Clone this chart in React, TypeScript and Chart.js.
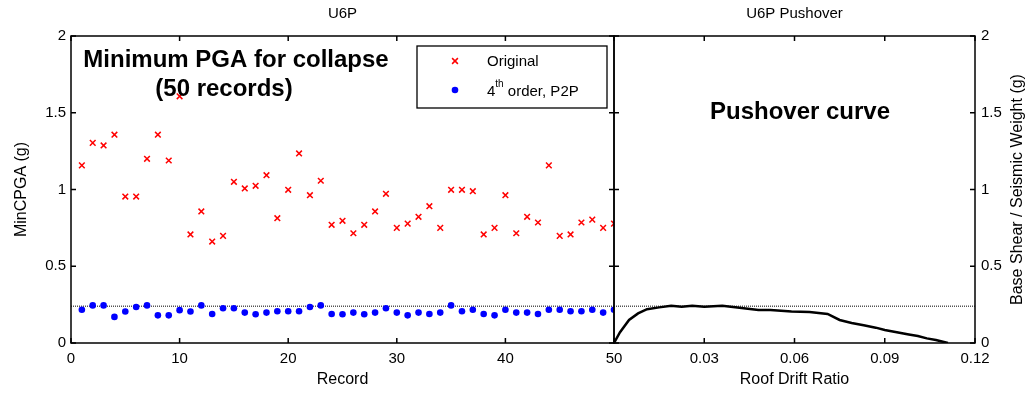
import React, { useEffect, useRef } from 'react';
import { Chart, registerables } from 'chart.js';

Chart.register(...registerables);

const W = 1031;
const H = 393;
const FONT = 'Arial, "Liberation Sans", Helvetica, sans-serif';

// ---- data ----
const records = [
  1, 2, 3, 4, 5, 6, 7, 8, 9, 10, 11, 12, 13, 14, 15, 16, 17, 18, 19, 20, 21, 22, 23, 24, 25,
  26, 27, 28, 29, 30, 31, 32, 33, 34, 35, 36, 37, 38, 39, 40, 41, 42, 43, 44, 45, 46, 47, 48, 49, 50,
];
const originalPGA = [
  1.157, 1.304, 1.287, 1.357, 0.954, 0.954, 1.2, 1.357, 1.189, 1.607,
  0.707, 0.857, 0.661, 0.698, 1.05, 1.007, 1.024, 1.093, 0.813, 0.998,
  1.235, 0.963, 1.057, 0.77, 0.796, 0.715, 0.77, 0.857, 0.972, 0.75,
  0.778, 0.822, 0.891, 0.75, 0.998, 0.998, 0.989, 0.707, 0.75, 0.963,
  0.715, 0.822, 0.785, 1.157, 0.698, 0.707, 0.785, 0.804, 0.75, 0.778,
];
const p2pPGA = [
  0.217, 0.245, 0.245, 0.17, 0.205, 0.235, 0.245, 0.18, 0.18, 0.214,
  0.205, 0.245, 0.189, 0.226, 0.226, 0.198, 0.187, 0.198, 0.207, 0.207,
  0.207, 0.235, 0.245, 0.189, 0.187, 0.198, 0.187, 0.198, 0.226, 0.198,
  0.18, 0.198, 0.189, 0.198, 0.245, 0.207, 0.217, 0.189, 0.18, 0.217,
  0.198, 0.198, 0.189, 0.217, 0.217, 0.207, 0.207, 0.217, 0.198, 0.217,
];
const roofDrift = [
  0, 0.002, 0.005, 0.008, 0.011, 0.015, 0.019, 0.0225, 0.026, 0.03, 0.036, 0.041, 0.048,
  0.052, 0.059, 0.065, 0.071, 0.075, 0.079, 0.083, 0.087, 0.09, 0.094, 0.098, 0.101,
  0.104, 0.107, 0.109, 0.111,
];
const baseShear = [
  0, 0.07, 0.15, 0.193, 0.22, 0.232, 0.243, 0.236, 0.243, 0.236, 0.243, 0.232, 0.215,
  0.215, 0.206, 0.202, 0.189, 0.15, 0.13, 0.115, 0.1, 0.085, 0.07, 0.055, 0.045,
  0.03, 0.02, 0.01, 0,
];
const peakLevel = [0.24];
const recordTicks = [0, 10, 20, 30, 40, 50];
const driftTicks = [0.03, 0.06, 0.09, 0.12];
const yTicks = [0, 0.5, 1, 1.5, 2];

const TICK_LEN = 5;

function drawFrame(chart: any, xTickVals: number[]) {
  const { ctx, chartArea: a } = chart;
  const xs = chart.scales.x;
  const ys = chart.scales.y;
  ctx.save();
  ctx.strokeStyle = '#000';
  ctx.lineWidth = 1.5;
  ctx.strokeRect(a.left, a.top, a.right - a.left, a.bottom - a.top);
  ctx.beginPath();
  for (const v of xTickVals) {
    const px = xs.getPixelForValue(v);
    ctx.moveTo(px, a.bottom);
    ctx.lineTo(px, a.bottom - TICK_LEN);
    ctx.moveTo(px, a.top);
    ctx.lineTo(px, a.top + TICK_LEN);
  }
  for (const v of yTicks) {
    const py = ys.getPixelForValue(v);
    ctx.moveTo(a.left, py);
    ctx.lineTo(a.left + TICK_LEN, py);
    ctx.moveTo(a.right, py);
    ctx.lineTo(a.right - TICK_LEN, py);
  }
  ctx.stroke();
  ctx.restore();
}

function text(ctx: any, s: string, x: number, y: number, font: string, align = 'center', rot = 0) {
  ctx.save();
  ctx.translate(x, y);
  if (rot) ctx.rotate(rot);
  ctx.font = font;
  ctx.fillStyle = '#000';
  ctx.textAlign = align;
  ctx.textBaseline = 'middle';
  ctx.fillText(s, 0, 0);
  ctx.restore();
}

const leftPlugin = {
  id: 'leftDecor',
  afterDatasetsDraw(chart: any) {
    const { ctx, chartArea: a } = chart;
    drawFrame(chart, recordTicks);
    const cx = (a.left + a.right) / 2;
    const cy = (a.top + a.bottom) / 2;
    text(ctx, 'U6P', cx, 14, `15px ${FONT}`);
    text(ctx, 'Record', cx, 380, `16px ${FONT}`);
    text(ctx, 'MinCPGA (g)', 22, cy, `16px ${FONT}`, 'center', -Math.PI / 2);
    text(ctx, 'Minimum PGA for collapse', 236, 60, `bold 24px ${FONT}`);
    text(ctx, '(50 records)', 224, 89, `bold 24px ${FONT}`);

    // legend
    ctx.save();
    ctx.strokeStyle = '#000';
    ctx.lineWidth = 1.3;
    ctx.fillStyle = '#fff';
    ctx.fillRect(417, 46, 190, 62);
    ctx.strokeRect(417, 46, 190, 62);
    // cross
    ctx.strokeStyle = '#ff0000';
    ctx.lineWidth = 1.5;
    const mx = 455, my1 = 61, my2 = 90, r = 2.9;
    ctx.beginPath();
    ctx.moveTo(mx - r, my1 - r); ctx.lineTo(mx + r, my1 + r);
    ctx.moveTo(mx - r, my1 + r); ctx.lineTo(mx + r, my1 - r);
    ctx.stroke();
    ctx.fillStyle = '#0000ff';
    ctx.beginPath();
    ctx.arc(mx, my2, 3.3, 0, Math.PI * 2);
    ctx.fill();
    ctx.restore();
    text(ctx, 'Original', 487, 62, `15px ${FONT}`, 'left');
    ctx.save();
    ctx.font = `15px ${FONT}`;
    const w4 = ctx.measureText('4').width;
    ctx.font = `10px ${FONT}`;
    const wth = ctx.measureText('th').width;
    ctx.restore();
    text(ctx, '4', 487, 92, `15px ${FONT}`, 'left');
    text(ctx, 'th', 487 + w4, 84, `10px ${FONT}`, 'left');
    text(ctx, ' order, P2P', 487 + w4 + wth, 92, `15px ${FONT}`, 'left');
  },
};

const rightPlugin = {
  id: 'rightDecor',
  afterDatasetsDraw(chart: any) {
    const { ctx, chartArea: a } = chart;
    drawFrame(chart, driftTicks);
    const cx = (a.left + a.right) / 2;
    const cy = (a.top + a.bottom) / 2;
    text(ctx, 'U6P Pushover', cx, 14, `15px ${FONT}`);
    text(ctx, 'Roof Drift Ratio', cx, 380, `16px ${FONT}`);
    text(ctx, 'Base Shear / Seismic Weight (g)', 1018, cy, `16px ${FONT}`, 'center', -Math.PI / 2);
    text(ctx, 'Pushover curve', 800, 112, `bold 24px ${FONT}`);
  },
};

const tickFont = { family: FONT, size: 15 };

export default function App() {
  const leftRef = useRef<HTMLCanvasElement>(null);
  const rightRef = useRef<HTMLCanvasElement>(null);

  useEffect(() => {
    const left = new Chart(leftRef.current as HTMLCanvasElement, {
      type: 'scatter',
      data: {
        datasets: [
          {
            label: 'Original',
            data: records.map((r, i) => ({ x: r, y: originalPGA[i] })),
            pointStyle: 'crossRot',
            pointRadius: 4,
            borderColor: '#ff0000',
            backgroundColor: '#ff0000',
            borderWidth: 1.5,
            clip: 0,
          },
          {
            label: '4th order, P2P',
            data: records.map((r, i) => ({ x: r, y: p2pPGA[i] })),
            pointStyle: 'circle',
            pointRadius: 3.3,
            borderWidth: 0,
            backgroundColor: '#0000ff',
            borderColor: '#0000ff',
            clip: 0,
          },
          {
            label: 'peak',
            data: [
              { x: recordTicks[0], y: peakLevel[0] },
              { x: recordTicks[recordTicks.length - 1], y: peakLevel[0] },
            ],
            showLine: true,
            pointRadius: 0,
            borderColor: '#000',
            borderWidth: 1,
            borderDash: [1, 1],
          },
        ],
      } as any,
      options: {
        responsive: false,
        animation: false,
        layout: { padding: { left: 0, right: W - 614, top: 36, bottom: 0 } },
        plugins: { legend: { display: false }, tooltip: { enabled: false } },
        scales: {
          x: {
            type: 'linear',
            min: 0,
            max: 50,
            afterBuildTicks: (s: any) => { s.ticks = recordTicks.map((v) => ({ value: v })); },
            afterFit: (s: any) => { s.height = 50; },
            grid: { display: false, drawTicks: false },
            border: { display: false },
            ticks: { font: tickFont, color: '#000', padding: 7, maxRotation: 0, callback: (v: any) => String(v) },
          },
          y: {
            type: 'linear',
            min: 0,
            max: 2,
            afterBuildTicks: (s: any) => { s.ticks = yTicks.map((v) => ({ value: v })); },
            afterFit: (s: any) => { s.width = 71; },
            grid: { display: false, drawTicks: false },
            border: { display: false },
            ticks: { font: tickFont, color: '#000', padding: 5, callback: (v: any) => String(v) },
          },
        },
      } as any,
      plugins: [leftPlugin],
    });

    const right = new Chart(rightRef.current as HTMLCanvasElement, {
      type: 'scatter',
      data: {
        datasets: [
          {
            label: 'Pushover',
            data: roofDrift.map((d, i) => ({ x: d, y: baseShear[i] })),
            showLine: true,
            pointRadius: 0,
            borderColor: '#000',
            borderWidth: 2.5,
            tension: 0,
          },
          {
            label: 'peak',
            data: [
              { x: 0, y: peakLevel[0] },
              { x: driftTicks[driftTicks.length - 1], y: peakLevel[0] },
            ],
            showLine: true,
            pointRadius: 0,
            borderColor: '#000',
            borderWidth: 1,
            borderDash: [1, 1],
          },
        ],
      } as any,
      options: {
        responsive: false,
        animation: false,
        layout: { padding: { left: 614, right: 0, top: 36, bottom: 0 } },
        plugins: { legend: { display: false }, tooltip: { enabled: false } },
        scales: {
          x: {
            type: 'linear',
            min: 0,
            max: 0.12,
            afterBuildTicks: (s: any) => { s.ticks = driftTicks.map((v) => ({ value: v })); },
            afterFit: (s: any) => { s.height = 50; },
            grid: { display: false, drawTicks: false },
            border: { display: false },
            ticks: { font: tickFont, color: '#000', padding: 7, maxRotation: 0, callback: (v: any) => Number(v).toFixed(2) },
          },
          y: {
            type: 'linear',
            position: 'right',
            min: 0,
            max: 2,
            afterBuildTicks: (s: any) => { s.ticks = yTicks.map((v) => ({ value: v })); },
            afterFit: (s: any) => { s.width = W - 975; },
            grid: { display: false, drawTicks: false },
            border: { display: false },
            ticks: { font: tickFont, color: '#000', padding: 6, callback: (v: any) => String(v) },
          },
        },
      } as any,
      plugins: [rightPlugin],
    });

    return () => {
      left.destroy();
      right.destroy();
    };
  }, []);

  const cs: React.CSSProperties = { position: 'absolute', left: 0, top: 0, width: W, height: H };
  return (
    <div style={{ position: 'absolute', left: 0, top: 0, width: W, height: H, background: '#fff' }}>
      <canvas ref={leftRef} width={W} height={H} style={cs} />
      <canvas ref={rightRef} width={W} height={H} style={cs} />
    </div>
  );
}
